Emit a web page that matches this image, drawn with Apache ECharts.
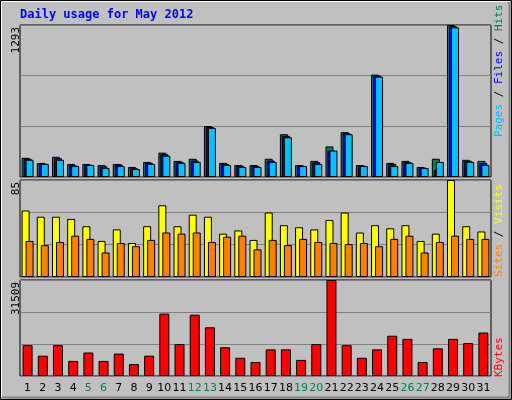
<!DOCTYPE html>
<html><head><meta charset="utf-8">
<script src="https://cdn.jsdelivr.net/npm/echarts@6/dist/echarts.min.js"></script>
<style>body{margin:0}#c{width:512px;height:400px;background:#c0c0c0}</style>
</head><body><div id="c"></div>
<script>
// days of the month
let days = [];
for (let i = 1; i <= 31; i++) days.push(String(i));
let weekend = ['5','6','12','13','19','20','26','27'];

let hits  = [163,120,172,111,111,102,111,85,128,207,137,155,434,120,102,102,155,364,102,137,260,382,102,871,120,137,85,155,1293,146,137];
let files = [155,115,160,100,106,90,106,75,120,195,130,140,425,111,95,95,140,350,97,125,225,372,97,862,111,128,80,60,1283,137,120];
let pages = [146,111,146,93,102,76,93,67,111,181,120,128,417,102,85,85,128,338,93,111,225,364,93,854,93,120,76,128,1273,128,102];
let visits = [58.3,52.8,52.8,50.9,44.5,31.6,41.7,29.8,44.5,62.9,44.5,54.6,52.8,38,40.8,32.5,56.5,45.4,43.6,41.7,50,56.5,39,45.4,42.7,45.4,31.6,38,85,44.5,39.9];
let sites = [31.6,27.9,30.7,36.2,33.4,21.5,29.8,27,32.5,39,38,39,30.7,35.3,36.2,24.2,32.5,27.9,33.4,30.7,29.8,28.8,29.8,27,33.4,36.2,21.5,30.7,36.2,33.4,33.4];
let kbytes = [10120,6670,10120,4945,7705,4945,7360,3910,6670,20469,10465,20124,15985,9430,5980,4600,8740,8740,5290,10465,31509,10120,5980,8740,13225,12190,4600,9085,12190,10810,14260];

let maxHits = 1293, maxVisits = 85, maxKb = 31509;

var chart = echarts.init(document.getElementById('c'));
let font = 'DejaVu Sans Mono';

function xAx(idx, show){
	return {
		type: 'category', gridIndex: idx, data: days,
		axisLine: {show: false}, axisTick: {show: false},
		axisLabel: {show: show, interval: 0, fontFamily: 'DejaVu Sans', fontSize: 11, margin: 7,
			color: function(v){ return weekend.indexOf(v) >= 0 ? '#00805c' : '#000'; }}
	};
}
function yAx(idx, max){
	return {
		type: 'value', gridIndex: idx, min: 0, max: max, interval: max / 3,
		axisLabel: {show: false}, axisLine: {show: false}, axisTick: {show: false},
		splitLine: {lineStyle: {color: '#808080', width: 1}}
	};
}
function bar(name, data, xi, color, w, gap){
	let s = {name: name, type: 'bar', xAxisIndex: xi, yAxisIndex: xi, data: data, barWidth: w,
		itemStyle: {color: color, borderColor: '#000', borderWidth: 1}, animation: false};
	if (gap) s.barGap = gap;
	return s;
}
function vtext(x, y, align, parts){
	return {type: 'text', x: x, y: y, rotation: Math.PI / 2,
		style: {text: parts.map(p => '{' + p[1] + '|' + p[0] + '}').join(''), align: align, verticalAlign: 'middle',
			rich: Object.fromEntries(parts.map(p => [p[1], {fill: p[2], font: '11px "DejaVu Sans Mono"'}]))}};
}

let option = {
	backgroundColor: '#c0c0c0',
	animation: false,
	grid: [
		{left: 20, right: 21, top: 25, height: 152, show: true, borderColor: '#000', backgroundColor: 'transparent'},
		{left: 20, right: 21, top: 180, height: 97, show: true, borderColor: '#000', backgroundColor: 'transparent'},
		{left: 20, right: 21, top: 280, height: 96, show: true, borderColor: '#000', backgroundColor: 'transparent'}
	],
	xAxis: [xAx(0, false), xAx(1, false), xAx(2, true)],
	yAxis: [yAx(0, maxHits), yAx(1, maxVisits), yAx(2, maxKb)],
	series: [
		bar('Hits', hits, 0, '#00805c', 8, '-75%'),
		bar('Files', files, 0, '#0000ff', 8, '-75%'),
		bar('Pages', pages, 0, '#00c0ff', 8, '-75%'),
		bar('Visits', visits, 1, '#ffff00', 8, '-50%'),
		bar('Sites', sites, 1, '#ff8000', 8, '-50%'),
		bar('KBytes', kbytes, 2, '#ff0000', 10)
	],
	graphic: [
		{type: 'rect', shape: {x: 0.5, y: 0.5, width: 511, height: 399}, style: {fill: null, stroke: '#000'}},
		{type: 'polyline', shape: {points: [[1.5, 397], [1.5, 1.5], [510, 1.5]]}, style: {stroke: '#fff', fill: null}},
		{type: 'polyline', shape: {points: [[2, 397.5], [509.5, 397.5], [509.5, 2]]}, style: {stroke: '#808080', fill: null, lineWidth: 2}},
		{type: 'text', x: 20, y: 9, style: {text: 'Daily usage for May 2012', fill: '#0000ff', font: 'bold 12px "DejaVu Sans Mono"'}},
		vtext(16, 27, 'right', [[String(maxHits), 'a', '#000']]),
		vtext(16, 182, 'right', [[String(maxVisits), 'a', '#000']]),
		vtext(16, 282, 'right', [[String(maxKb), 'a', '#000']]),
		vtext(499, 137, 'left', [['Pages', 'p', '#00c0ff'], [' / ', 's', '#000'], ['Files', 'f', '#0000ff'], [' / ', 's', '#000'], ['Hits', 'h', '#00805c']]),
		vtext(499, 277, 'left', [['Sites', 'si', '#ff8000'], [' / ', 's', '#000'], ['Visits', 'v', '#ffff00']]),
		vtext(499, 377, 'left', [['KBytes', 'k', '#ff0000']])
	]
};
chart.setOption(option);
</script></body></html>
